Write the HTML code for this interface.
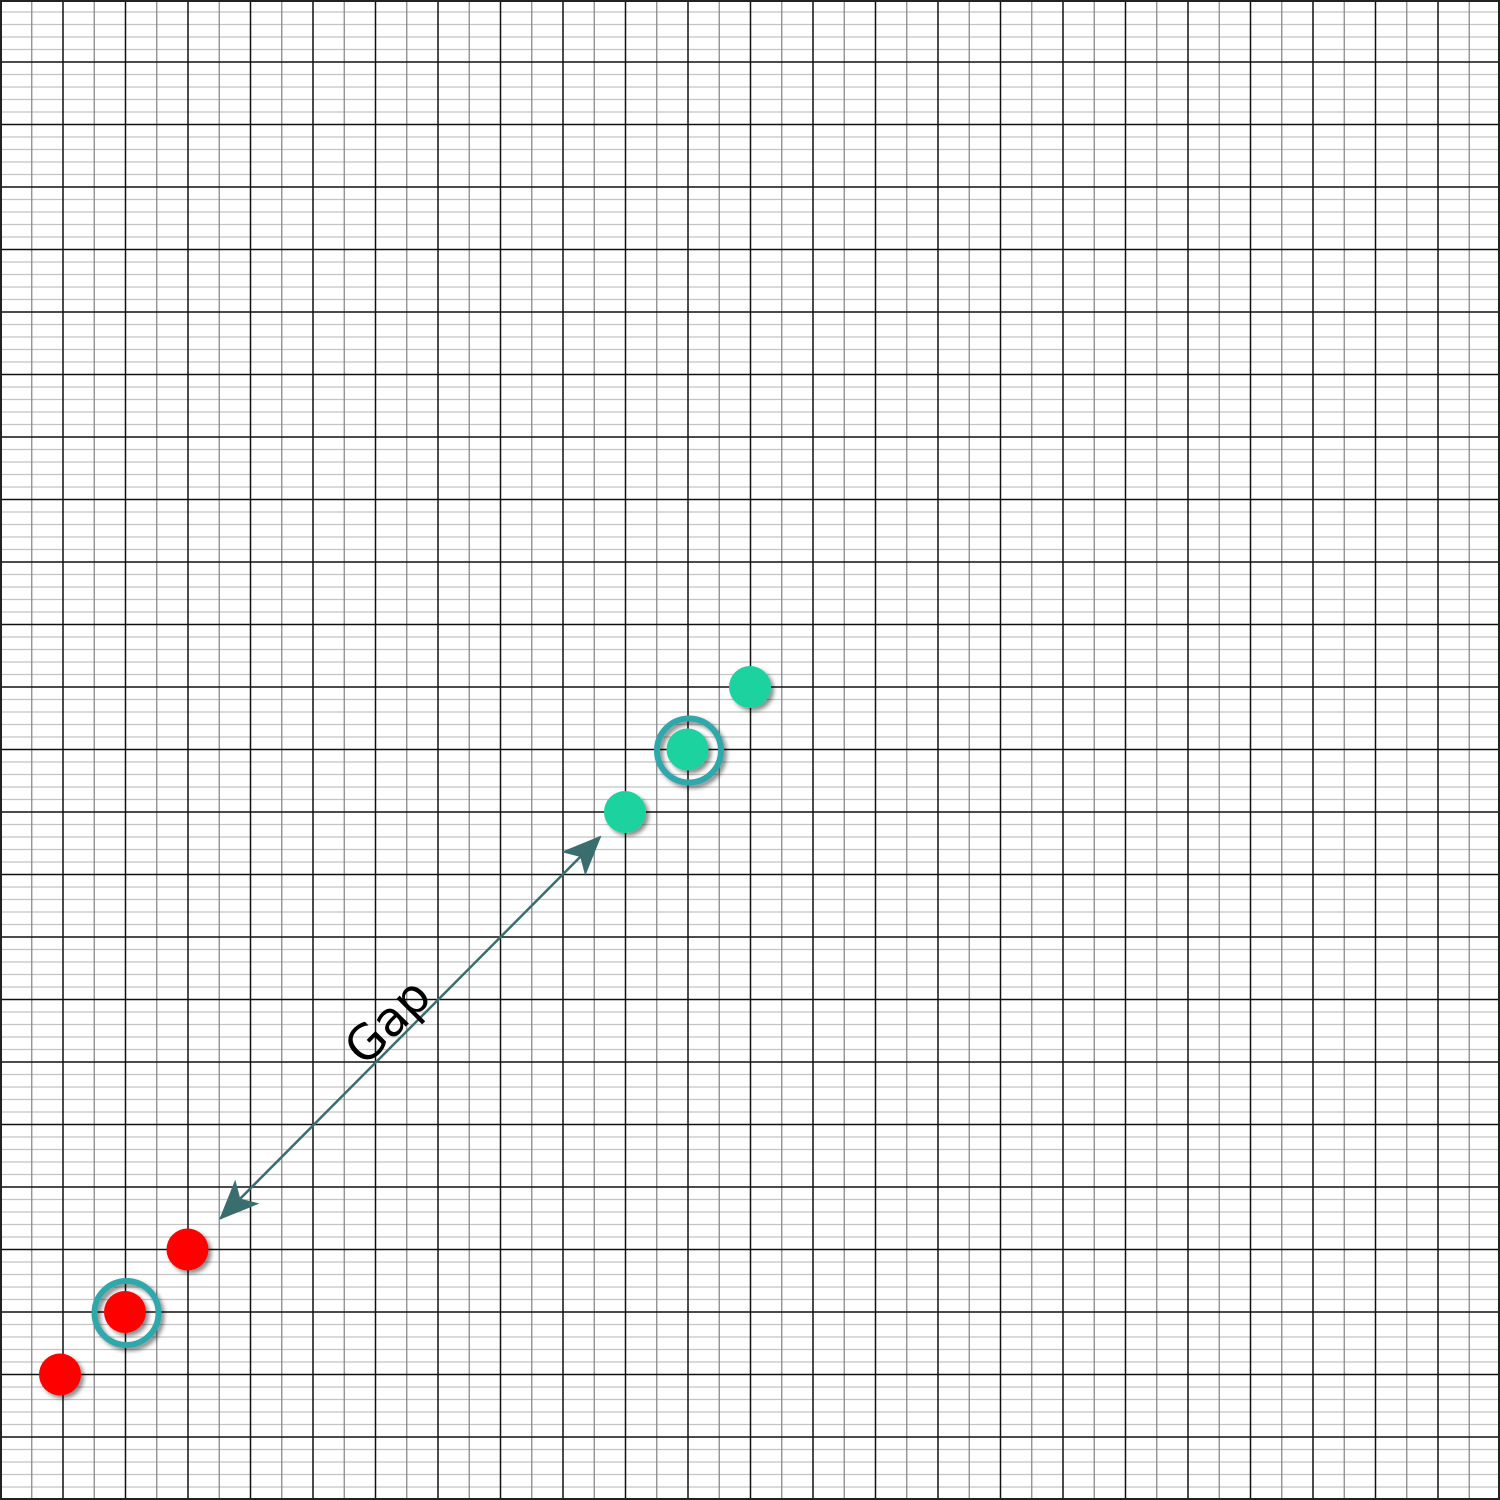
<!DOCTYPE html>
<html><head><meta charset="utf-8"><style>html,body{margin:0;padding:0;background:#fff}svg{display:block}</style></head>
<body>
<svg id="chart" width="1500" height="1500" viewBox="0 0 1500 1500" xmlns="http://www.w3.org/2000/svg">
<defs>
<filter id="sh" x="-50%" y="-50%" width="200%" height="200%"><feDropShadow dx="3" dy="3" stdDeviation="2" flood-color="#000" flood-opacity="0.45"/></filter>
<marker id="ah" viewBox="0 0 40 40" refX="38" refY="20" markerWidth="40" markerHeight="40" markerUnits="userSpaceOnUse" orient="auto-start-reverse"><path d="M0,3 L40,20 L0,37 L10,20 Z" fill="#3a6e6e"/></marker>
</defs>
<g id="grid"></g>
<g id="marks"></g>
<rect x="1" y="1" width="1498" height="1498" fill="none" stroke="#222" stroke-width="2"/>
</svg>
<script>
const redX = [0.96, 2, 3];
const redY = [2, 3, 4];
const greenX = [10, 11, 12];
const greenY = [11, 12, 13];
const highlightRed = 1;
const highlightGreen = 1;
const gapLabel = "Gap";
const U = 62.5, Y0 = 1499.5;
const sx = v => v * U;
const sy = v => Y0 - v * U;
const NS = "http://www.w3.org/2000/svg";
function mk(tag, attrs, parent){const e=document.createElementNS(NS,tag);for(const k in attrs)e.setAttribute(k,attrs[k]);parent.appendChild(e);return e;}
const grid = document.getElementById('grid');
for (let i = 0; i <= 120; i++) {
  const y = Y0 - i * 12.5;
  if (i % 5 !== 0) { const l = mk('line',{x1:0,x2:1500,y1:y,y2:y,stroke:'#c4c4c4','stroke-width':1.2},grid);
      }
}
for (let i = 0; i <= 48; i++) {
  const x = i * 31.25 + 0.5;
  if (i % 2 === 1) { const l = mk('line',{x1:x,x2:x,y1:0,y2:1500,stroke:'#8a8a8a','stroke-width':1.3},grid);
      }
}
for (let i = 0; i <= 24; i++) {
  const x = i * 62.5 + 0.5, y = Y0 - i * 62.5;
  const a = mk('line',{x1:x,x2:x,y1:0,y2:1500,stroke:'#111','stroke-width':1.5},grid);
   
  const b = mk('line',{x1:0,x2:1500,y1:y,y2:y,stroke:'#111','stroke-width':1.5},grid);
   
}
const marks = document.getElementById('marks');
function series(xs, ys, color, hi, name){
  xs.forEach((v,i)=>{
    if (i === hi) {
      const r = mk('circle',{cx:sx(v)+1.5,cy:sy(ys[i])+1,r:32,fill:'none',stroke:'#2fa8aa','stroke-width':6,filter:'url(#sh)'},marks);
       
    }
    const c = mk('circle',{cx:sx(v),cy:sy(ys[i]),r:21,fill:color,filter:'url(#sh)'},marks);
     
  });
}
series(redX, redY, '#ff0000', highlightRed, 'red');
series(greenX, greenY, '#1ad3a0', highlightGreen, 'green');
// gap arrow between last red point and first green point
const ax1 = sx(redX[redX.length-1]) + 33, ay1 = sy(redY[redY.length-1]) - 31;
const ax2 = sx(greenX[0]) - 25, ay2 = sy(greenY[0]) + 25;
const arrow = mk('line',{x1:ax1,y1:ay1,x2:ax2,y2:ay2,stroke:'#3a6e6e','stroke-width':2.5,'marker-start':'url(#ah)','marker-end':'url(#ah)'},marks);
 
const mx = 402, my = ay1 + (ay2-ay1)*(mx-ax1)/(ax2-ax1);
const t = mk('text',{x:0,y:-4,'text-anchor':'middle','font-family':'"DejaVu Sans","Liberation Sans",sans-serif','font-size':48,fill:'#000',transform:`translate(${mx},${my}) rotate(-45)`},marks);
t.textContent = gapLabel;
 
</script>
</body></html>
